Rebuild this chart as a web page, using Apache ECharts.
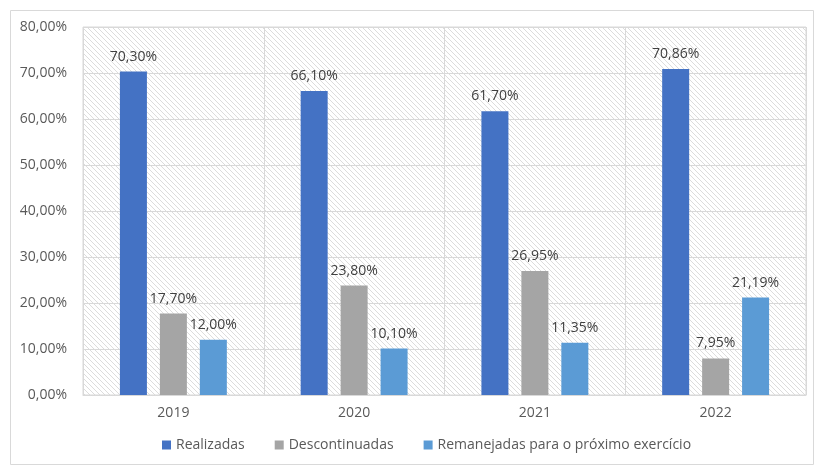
<!DOCTYPE html>
<html>
<head>
<meta charset="utf-8">
<script src="https://cdn.jsdelivr.net/npm/echarts@6/dist/echarts.min.js"></script>
<style>
  html, body { margin: 0; padding: 0; background: #fff; }
  #chart { width: 815px; height: 468px; }
</style>
</head>
<body>
<div id="chart"></div>
<script>
// Years shown on the category axis
const years = ['2019', '2020', '2021', '2022'];

// Share of actions per year (%)
const realizadas = [70.30, 66.10, 61.70, 70.86];
const descontinuadas = [17.70, 23.80, 26.95, 7.95];
const remanejadas = [12.00, 10.10, 11.35, 21.19];

const seriesNames = ['Realizadas', 'Descontinuadas', 'Remanejadas para o próximo exercício'];
const seriesColors = ['#4472C4', '#A5A5A5', '#5B9BD5'];

const FONT = '"Open Sans", "Noto Sans", sans-serif';

// Percent formatted with a decimal comma
function pct(v, digits) {
  return v.toFixed(digits).replace('.', ',') + '%';
}

// Diagonal hatch used as the plot background
function hatchPattern() {
  const size = 5;
  const c = document.createElement('canvas');
  c.width = size; c.height = size;
  const ctx = c.getContext('2d');
  ctx.fillStyle = '#ffffff';
  ctx.fillRect(0, 0, size, size);
  ctx.strokeStyle = '#dcdcdc';
  ctx.lineWidth = 1;
  ctx.beginPath();
  ctx.moveTo(0, 0); ctx.lineTo(size, size);
  ctx.moveTo(-size, 0); ctx.lineTo(size, 2 * size);
  ctx.moveTo(0, -size); ctx.lineTo(2 * size, size);
  ctx.stroke();
  return { image: c, repeat: 'repeat' };
}

const chart = echarts.init(document.getElementById('chart'), null, { renderer: 'canvas' });

function barSeries(name, data, color) {
  return {
    name: name,
    type: 'bar',
    data: data,
    barWidth: 27,
    barGap: '48%',
    itemStyle: { color: color },
    label: {
      show: true,
      position: 'top',
      distance: 8,
      color: '#404040',
      fontFamily: FONT,
      fontSize: 14,
      formatter: p => pct(p.value, 2)
    }
  };
}

chart.setOption({
  animation: false,
  textStyle: { fontFamily: FONT },
  graphic: [{
    type: 'rect',
    left: 8, top: 8,
    shape: { width: 803, height: 454 },
    style: { fill: 'none', stroke: '#d9d9d9', lineWidth: 1 },
    silent: true
  }],
  grid: {
    left: 83, right: 9, top: 27, bottom: 73,
    show: true,
    backgroundColor: hatchPattern(),
    borderColor: '#d9d9d9',
    borderWidth: 1
  },
  legend: {
    bottom: 11,
    left: 157,
    itemWidth: 9,
    itemHeight: 9,
    itemGap: 30,
    icon: 'rect',
    textStyle: { color: '#595959', fontSize: 14, fontFamily: FONT },
    data: seriesNames
  },
  xAxis: {
    type: 'category',
    data: years,
    axisLine: { lineStyle: { color: '#d9d9d9' } },
    axisTick: { show: false },
    axisLabel: { color: '#595959', fontSize: 14, margin: 11, fontFamily: FONT },
    splitLine: { show: true, lineStyle: { color: '#d9d9d9', width: 1 } }
  },
  yAxis: {
    type: 'value',
    min: 0, max: 80, interval: 10,
    axisLine: { show: false },
    axisTick: { show: false },
    axisLabel: {
      color: '#595959', fontSize: 14, margin: 16, fontFamily: FONT,
      formatter: v => pct(v, 2)
    },
    splitLine: { lineStyle: { color: '#d9d9d9', width: 1 } }
  },
  series: [
    barSeries(seriesNames[0], realizadas, seriesColors[0]),
    barSeries(seriesNames[1], descontinuadas, seriesColors[1]),
    barSeries(seriesNames[2], remanejadas, seriesColors[2])
  ]
});
</script>
</body>
</html>
